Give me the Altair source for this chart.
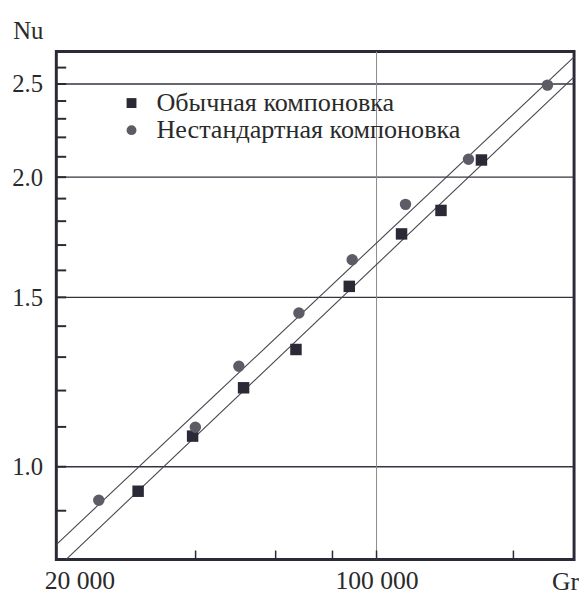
import altair as alt
import pandas as pd

# --- data ---
series = ["Обычная компоновка", "Нестандартная компоновка"]

sq_gr = [29900, 39400, 51000, 66500, 87100, 113500, 138600, 170100]
sq_nu = [0.943, 1.076, 1.208, 1.324, 1.540, 1.746, 1.847, 2.084]

ci_gr = [24500, 39950, 49800, 67500, 88400, 115800, 159300, 237600]
ci_nu = [0.923, 1.099, 1.272, 1.445, 1.641, 1.874, 2.088, 2.493]

fit_upper_gr = [19760, 271900]
fit_upper_nu = [0.830, 2.667]
fit_lower_gr = [20770, 271900]
fit_lower_nu = [0.801, 2.543]

major_nu = [1.0, 1.5, 2.0, 2.5]
minor_nu = [0.9, 1.1, 1.2, 1.3, 1.4, 1.6, 1.7, 1.8, 1.9, 2.1, 2.2, 2.3, 2.4, 2.6]
x_ticks = [40000, 60000, 80000, 100000, 200000]
x_labels = [20000, 100000]
x_grid = [100000]

x_domain = [19760, 271900]
y_domain = [0.801, 2.702]

W, H = 525, 515
FONT = "Liberation Serif"
TXT = "#2a2a2a"

pts = pd.DataFrame({
    "Gr": sq_gr + ci_gr,
    "Nu": sq_nu + ci_nu,
    "s": [series[0]] * len(sq_gr) + [series[1]] * len(ci_gr),
})
fits = pd.DataFrame({
    "Gr": fit_upper_gr + fit_lower_gr,
    "Nu": fit_upper_nu + fit_lower_nu,
    "line": ["u", "u", "l", "l"],
})
grid_y = pd.DataFrame({"Nu": major_nu})
ticks_y = pd.DataFrame({"Nu": major_nu + minor_nu})
grid_x = pd.DataFrame({"Gr": x_grid})
ticks_x = pd.DataFrame({"Gr": x_ticks})

xscale = alt.Scale(type="log", domain=x_domain, nice=False, zero=False)
yscale = alt.Scale(type="log", domain=y_domain, nice=False, zero=False)

xaxis = alt.Axis(
    values=x_labels,
    labelExpr="datum.value == 20000 ? '20 000' : '100 000'",
    labelOffset={"condition": {"test": "datum.value == 20000", "value": 21}, "value": 0},
    ticks=False, domain=False, grid=False,
    labelFont=FONT, labelFontSize=26, labelColor=TXT, labelPadding=9,
    title="Gr", titleFont=FONT, titleFontSize=26, titleFontWeight="normal",
    titleColor=TXT, titleAlign="left", titleBaseline="middle",
    titleX=502, titleY=23,
)
yaxis = alt.Axis(
    values=major_nu,
    labelExpr="format(datum.value, '.1f')",
    ticks=False, domain=False, grid=False,
    labelFont=FONT, labelFontSize=25, labelColor=TXT, labelPadding=14,
    title="Nu", titleFont=FONT, titleFontSize=25, titleFontWeight="normal",
    titleColor=TXT, titleAngle=0, titleAlign="center", titleBaseline="middle",
    titleX=-29, titleY=-21,
)

X = alt.X("Gr:Q", scale=xscale, axis=xaxis)
Y = alt.Y("Nu:Q", scale=yscale, axis=yaxis)

hgrid = alt.Chart(grid_y).mark_rule(color="#34343f", strokeWidth=1.4).encode(y=Y)
vgrid = alt.Chart(grid_x).mark_rule(color="#8a8a8a", strokeWidth=1).encode(x=X)
yt = alt.Chart(ticks_y).mark_rule(color="#2a2a36", strokeWidth=2).encode(
    y=Y, x=alt.value(0), x2=alt.value(10))
xt = alt.Chart(ticks_x).mark_rule(color="#2a2a36", strokeWidth=1.5).encode(
    x=X, y=alt.value(H), y2=alt.value(H - 9))
lines = alt.Chart(fits).mark_line(color="#45454f", strokeWidth=1.1).encode(
    x=X, y=Y, detail="line:N")

leg = alt.Legend(orient="none", legendX=63, legendY=39, title=None,
                 labelFont=FONT, labelFontSize=26.5, labelColor=TXT, labelLimit=500,
                 symbolSize=100, labelOffset=12, rowPadding=0.5, padding=0)

points = alt.Chart(pts).mark_point(filled=True, size=135, opacity=1).encode(
    x=X, y=Y,
    shape=alt.Shape("s:N", scale=alt.Scale(domain=series, range=["square", "circle"]), legend=leg),
    color=alt.Color("s:N", scale=alt.Scale(domain=series, range=["#2a2a36", "#5c5c66"]), legend=leg),
)

chart = alt.layer(hgrid, vgrid, yt, xt, lines, points).properties(
    width=W, height=H,
    autosize=alt.AutoSizeParams(type="none"),
    padding={"left": 49, "top": 40, "right": 5, "bottom": 34},
    background="#ffffff",
).configure(font=FONT).configure_axis(
    labelFont=FONT, titleFont=FONT
).configure_legend(
    labelFont=FONT
).configure_view(stroke="#2a2a38", strokeWidth=3)

chart.save("out.html", embed_options={"renderer": "svg", "actions": False})
